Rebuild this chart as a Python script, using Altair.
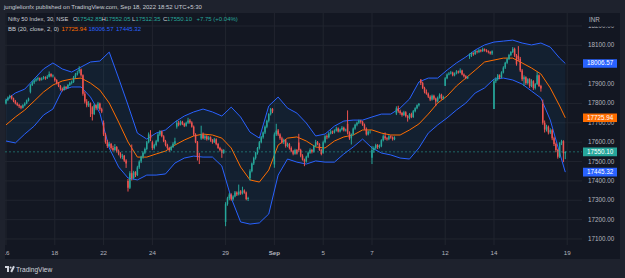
import altair as alt
import pandas as pd

# ---- 30-minute NIFTY 50 bars, 16 Aug - 16 Sep 2022 (13 bars per session) ----
opens = [
    17800, 17818, 17830, 17838, 17826, 17812, 17800, 17792, 17785, 17778, 17790, 17800, 17815,
    17860, 17895, 17908, 17918, 17925, 17930, 17922, 17928, 17935, 17930, 17938, 17952, 17940,
    17930, 17920, 17905, 17890, 17875, 17870, 17885, 17880, 17895, 17905, 17910, 17935, 17950,
    17966, 17975, 17945, 17850, 17810, 17790, 17800, 17780, 17745, 17790, 17775, 17800, 17770,
    17700, 17640, 17600, 17580, 17590, 17570, 17560, 17575, 17555, 17540, 17525, 17530, 17505,
    17400, 17365, 17440, 17415, 17445, 17430, 17470, 17500, 17525, 17545, 17565, 17600, 17640,
    17600, 17570, 17585, 17605, 17640, 17655, 17630, 17605, 17585, 17570, 17560, 17575, 17592,
    17679, 17700, 17690, 17705, 17695, 17685, 17700, 17712, 17702, 17680, 17640, 17600, 17525,
    17619, 17640, 17620, 17630, 17615, 17625, 17610, 17600, 17615, 17590, 17570, 17560, 17545,
    17188, 17280, 17310, 17330, 17305, 17320, 17340, 17330, 17345, 17335, 17350, 17340, 17306,
    17414, 17450, 17490, 17518, 17545, 17570, 17600, 17625, 17650, 17680, 17710, 17745, 17772,
    17485, 17640, 17660, 17640, 17620, 17600, 17610, 17580, 17590, 17570, 17555, 17540, 17560,
    17598, 17560, 17530, 17510, 17500, 17525, 17545, 17560, 17550, 17580, 17600, 17590, 17560,
    17546, 17600, 17630, 17625, 17645, 17655, 17650, 17660, 17670, 17655, 17665, 17675, 17660,
    17695, 17650, 17620, 17640, 17670, 17690, 17700, 17710, 17705, 17690, 17670, 17640, 17655,
    17519, 17560, 17570, 17585, 17575, 17580, 17610, 17630, 17620, 17615, 17630, 17625, 17615,
    17748, 17775, 17760, 17750, 17740, 17755, 17735, 17725, 17745, 17730, 17760, 17775, 17790,
    17923, 17905, 17880, 17860, 17850, 17835, 17820, 17840, 17825, 17810, 17830, 17845, 17825,
    17891, 17930, 17950, 17955, 17960, 17945, 17955, 17965, 17960, 17970, 17950, 17940, 17930,
    18044, 18050, 18060, 18055, 18070, 18065, 18075, 18070, 18080, 18075, 18070, 18065, 18058,
    17771, 17915, 17925, 17945, 17935, 17960, 17985, 18010, 18030, 18050, 18065, 18082, 18048,
    18046, 18030, 17970, 17925, 17935, 17905, 17925, 17890, 17915, 17880, 17900, 17945, 17890,
    17797, 17700, 17665, 17680, 17650, 17662, 17620, 17590, 17560, 17525, 17595, 17605, 17542.85,
]
highs = [
    17825, 17836, 17845, 17842, 17830, 17818, 17806, 17798, 17790, 17796, 17806, 17820, 17830,
    17900, 17915, 17925, 17932, 17938, 17934, 17935, 17942, 17940, 17946, 17965, 17956, 17950,
    17938, 17925, 17910, 17895, 17882, 17892, 17890, 17900, 17912, 17918, 17942, 17958, 17969,
    17992, 17980, 17950, 17862, 17822, 17812, 17805, 17786, 17798, 17795, 17808, 17804, 17778,
    17712, 17648, 17612, 17602, 17596, 17582, 17590, 17580, 17562, 17548, 17540, 17534, 17512,
    17410, 17450, 17588, 17452, 17450, 17478, 17506, 17530, 17552, 17572, 17606, 17650, 17662,
    17608, 17592, 17612, 17648, 17662, 17660, 17636, 17612, 17592, 17576, 17582, 17600, 17623,
    17712, 17710, 17712, 17710, 17700, 17706, 17726, 17720, 17708, 17686, 17646, 17606, 17545,
    17685, 17650, 17638, 17636, 17632, 17630, 17616, 17622, 17620, 17596, 17576, 17566, 17564,
    17290, 17318, 17338, 17336, 17326, 17348, 17346, 17381, 17352, 17370, 17356, 17345, 17318,
    17460, 17495, 17525, 17550, 17575, 17606, 17632, 17655, 17686, 17716, 17750, 17777, 17776,
    17650, 17695, 17668, 17646, 17628, 17618, 17616, 17598, 17596, 17578, 17560, 17566, 17565,
    17643, 17566, 17538, 17515, 17530, 17552, 17568, 17565, 17586, 17612, 17606, 17595, 17566,
    17608, 17636, 17640, 17652, 17662, 17660, 17666, 17680, 17676, 17670, 17683, 17680, 17670,
    17764, 17656, 17645, 17676, 17695, 17706, 17716, 17715, 17710, 17696, 17676, 17660, 17662,
    17580, 17578, 17592, 17590, 17588, 17615, 17640, 17650, 17626, 17636, 17635, 17630, 17630,
    17785, 17788, 17768, 17756, 17762, 17760, 17740, 17750, 17752, 17766, 17780, 17795, 17802,
    17925, 17912, 17886, 17872, 17856, 17842, 17846, 17845, 17830, 17836, 17852, 17850, 17840,
    17936, 17955, 17962, 17968, 17964, 17960, 17972, 17970, 17981, 17974, 17955, 17946, 17942,
    18058, 18066, 18064, 18076, 18074, 18082, 18080, 18088, 18084, 18080, 18074, 18070, 18074,
    17925, 17935, 17952, 17950, 17966, 17992, 18015, 18036, 18056, 18070, 18091, 18088, 18055,
    18096, 18040, 17978, 17945, 17940, 17930, 17930, 17925, 17920, 17905, 17962, 17950, 17896,
    17820, 17712, 17690, 17686, 17672, 17668, 17628, 17598, 17566, 17600, 17612, 17610, 17552.05,
]
lows = [
    17795, 17812, 17824, 17820, 17806, 17795, 17786, 17776, 17770, 17774, 17785, 17796, 17810,
    17852, 17890, 17900, 17912, 17918, 17915, 17918, 17924, 17922, 17926, 17934, 17935, 17934,
    17912, 17898, 17884, 17866, 17862, 17866, 17872, 17876, 17890, 17898, 17906, 17930, 17944,
    17955, 17938, 17840, 17800, 17780, 17782, 17730, 17712, 17740, 17765, 17770, 17762, 17750,
    17632, 17592, 17570, 17574, 17562, 17552, 17555, 17546, 17532, 17516, 17512, 17498, 17467,
    17345, 17358, 17402, 17408, 17420, 17425, 17462, 17492, 17515, 17538, 17558, 17594, 17605,
    17560, 17562, 17578, 17600, 17632, 17625, 17600, 17578, 17562, 17550, 17555, 17570, 17586,
    17670, 17682, 17686, 17688, 17678, 17680, 17694, 17695, 17675, 17632, 17595, 17505, 17487,
    17612, 17615, 17612, 17608, 17610, 17602, 17592, 17596, 17584, 17565, 17552, 17519, 17540,
    17166, 17272, 17300, 17298, 17298, 17315, 17322, 17325, 17328, 17330, 17334, 17300, 17296,
    17401, 17444, 17482, 17510, 17536, 17562, 17594, 17618, 17642, 17672, 17702, 17738, 17750,
    17468, 17632, 17632, 17612, 17592, 17590, 17572, 17574, 17562, 17548, 17532, 17535, 17536,
    17550, 17522, 17505, 17476, 17494, 17518, 17540, 17542, 17546, 17575, 17584, 17555, 17532,
    17540, 17594, 17615, 17620, 17640, 17642, 17645, 17655, 17650, 17650, 17660, 17655, 17655,
    17640, 17612, 17588, 17635, 17664, 17682, 17694, 17696, 17684, 17664, 17634, 17635, 17645,
    17487, 17545, 17562, 17565, 17568, 17574, 17604, 17612, 17608, 17610, 17618, 17608, 17610,
    17740, 17752, 17742, 17732, 17735, 17728, 17706, 17718, 17724, 17725, 17754, 17770, 17784,
    17895, 17874, 17852, 17845, 17828, 17812, 17815, 17818, 17786, 17805, 17825, 17820, 17820,
    17890, 17925, 17945, 17950, 17940, 17940, 17950, 17954, 17956, 17945, 17934, 17925, 17926,
    18030, 18040, 18046, 18050, 18058, 18060, 18064, 18066, 18068, 18064, 18058, 18052, 18050,
    17771, 17905, 17918, 17925, 17930, 17955, 17978, 18004, 18024, 18044, 18060, 18040, 17995,
    18020, 17962, 17915, 17890, 17896, 17898, 17880, 17884, 17870, 17872, 17895, 17885, 17861,
    17690, 17650, 17655, 17640, 17642, 17610, 17580, 17548, 17515, 17518, 17585, 17497, 17512.35,
]
closes = [
    17818, 17830, 17838, 17826, 17812, 17800, 17792, 17785, 17778, 17790, 17800, 17815, 17825,
    17895, 17908, 17918, 17925, 17930, 17922, 17928, 17935, 17930, 17938, 17952, 17940, 17944,
    17920, 17905, 17890, 17875, 17870, 17885, 17880, 17895, 17905, 17910, 17935, 17950, 17956,
    17975, 17945, 17850, 17810, 17790, 17800, 17780, 17745, 17790, 17775, 17800, 17770, 17758,
    17640, 17600, 17580, 17590, 17570, 17560, 17575, 17555, 17540, 17525, 17530, 17505, 17490,
    17365, 17440, 17415, 17445, 17430, 17470, 17500, 17525, 17545, 17565, 17600, 17640, 17620,
    17570, 17585, 17605, 17640, 17655, 17630, 17605, 17585, 17570, 17560, 17575, 17592, 17605,
    17700, 17690, 17705, 17695, 17685, 17700, 17712, 17702, 17680, 17640, 17600, 17525, 17522,
    17640, 17620, 17630, 17615, 17625, 17610, 17600, 17615, 17590, 17570, 17560, 17545, 17559,
    17280, 17310, 17330, 17305, 17320, 17340, 17330, 17345, 17335, 17350, 17340, 17306, 17312,
    17450, 17490, 17518, 17545, 17570, 17600, 17625, 17650, 17680, 17710, 17745, 17772, 17759,
    17640, 17660, 17640, 17620, 17600, 17610, 17580, 17590, 17570, 17555, 17540, 17560, 17542,
    17560, 17530, 17510, 17500, 17525, 17545, 17560, 17550, 17580, 17600, 17590, 17560, 17539,
    17600, 17630, 17625, 17645, 17655, 17650, 17660, 17670, 17655, 17665, 17675, 17660, 17665,
    17650, 17620, 17640, 17670, 17690, 17700, 17710, 17705, 17690, 17670, 17640, 17655, 17655,
    17560, 17570, 17585, 17575, 17580, 17610, 17630, 17620, 17615, 17630, 17625, 17615, 17624,
    17775, 17760, 17750, 17740, 17755, 17735, 17725, 17745, 17730, 17760, 17775, 17790, 17798,
    17905, 17880, 17860, 17850, 17835, 17820, 17840, 17825, 17810, 17830, 17845, 17825, 17833,
    17930, 17950, 17955, 17960, 17945, 17955, 17965, 17960, 17970, 17950, 17940, 17930, 17936,
    18050, 18060, 18055, 18070, 18065, 18075, 18070, 18080, 18075, 18070, 18065, 18058, 18070,
    17915, 17925, 17945, 17935, 17960, 17985, 18010, 18030, 18050, 18065, 18082, 18048, 18004,
    18030, 17970, 17925, 17935, 17905, 17925, 17890, 17915, 17880, 17900, 17945, 17890, 17877,
    17700, 17665, 17680, 17650, 17662, 17620, 17590, 17560, 17525, 17595, 17605, 17542.85, 17550.10,
]

# ---- Bollinger Bands (20, close, 2), sampled every 5 bars ----
bb_index = [0, 5, 10, 15, 20, 25, 30, 35, 40, 45, 50, 55, 60, 65, 70, 75, 80, 85, 90, 95,
            100, 105, 110, 115, 120, 125, 130, 135, 140, 145, 150, 155, 160, 165, 170, 175,
            180, 185, 190, 195, 200, 205, 210, 215, 220, 225, 230, 235, 240, 245, 250, 255,
            260, 265, 270, 275, 280, 285, 290, 295, 298]
bb_upper = [17818, 17854, 17874, 17926, 17978, 18009, 17978, 17962, 17988, 18014, 18019, 18065,
            17931, 17792, 17647, 17616, 17647, 17663, 17704, 17735, 17756, 17771, 17756, 17735,
            17781, 17730, 17652, 17621, 17787, 17833, 17776, 17750, 17699, 17632, 17642, 17683,
            17709, 17714, 17714, 17730, 17745, 17745, 17776, 17823, 17911, 17931, 17931, 17972,
            18009, 18040, 18076, 18102, 18117, 18122, 18127, 18112, 18102, 18112, 18091, 18034,
            18006.57]
bb_basis = [17689, 17730, 17766, 17812, 17859, 17895, 17916, 17926, 17931, 17905, 17869, 17802,
            17704, 17601, 17523, 17523, 17539, 17554, 17585, 17611, 17632, 17642, 17637, 17621,
            17570, 17472, 17405, 17394, 17456, 17585, 17621, 17627, 17606, 17575, 17570, 17606,
            17627, 17637, 17663, 17663, 17647, 17637, 17637, 17663, 17694, 17745, 17802, 17838,
            17890, 17931, 17972, 18014, 18024, 18034, 18034, 18009, 17983, 17952, 17880, 17787,
            17725.94]
bb_lower = [17606, 17596, 17642, 17683, 17740, 17771, 17869, 17885, 17885, 17833, 17750, 17570,
            17472, 17415, 17405, 17430, 17430, 17436, 17492, 17518, 17528, 17523, 17523, 17477,
            17312, 17188, 17177, 17183, 17229, 17430, 17513, 17497, 17487, 17503, 17497, 17497,
            17539, 17575, 17616, 17570, 17544, 17534, 17518, 17513, 17570, 17647, 17689, 17725,
            17766, 17802, 17854, 17880, 17926, 17931, 17921, 17900, 17864, 17828, 17714, 17544,
            17445.32]

# ---- axis ticks ----
day_ticks = [0, 26, 52, 78, 117, 143, 169, 195, 234, 260, 299]
day_labels = ["16", "18", "22", "24", "29", "Sep", "5", "7", "12", "14", "19"]
price_ticks = [17100, 17200, 17300, 17400, 17500, 17600, 17700, 17800, 17900, 18000, 18100, 18200]

# ---- look ----
FONT = "Liberation Sans"
PANE = "#131722"
FRAME = "#1e222d"
GRID = "#21252f"
UP = "#26a69a"
DOWN = "#ef5350"
BAND = "#2962ff"
BASIS = "#ff6d00"
TEXT = "#b2b5be"
HEAD = "#c9ccd3"
W, H = 577, 232
X_MIN, X_MAX = -0.53, 306.9
Y_MIN, Y_MAX = 17069, 18267
PX = (Y_MAX - Y_MIN) / H  # price units per pixel

xs = alt.Scale(domain=[X_MIN, X_MAX], nice=False, zero=False)
ys = alt.Scale(domain=[Y_MIN, Y_MAX], nice=False, zero=False)

candles = pd.DataFrame({"i": range(len(closes)), "o": opens, "h": highs, "l": lows, "c": closes})
candles["dir"] = ["up" if c >= o else "down" for o, c in zip(opens, closes)]
candles["x0"] = candles["i"] - 0.4
candles["x1"] = candles["i"] + 0.4
bands = pd.DataFrame({"i": bb_index, "up": bb_upper, "mid": bb_basis, "lo": bb_lower})
days = pd.DataFrame({"i": day_ticks, "lab": day_labels})
prices = pd.DataFrame({"p": price_ticks})
prices["lab"] = [f"{p:.2f}" for p in price_ticks]
one = pd.DataFrame({"k": [0]})
dir_color = alt.Color("dir:N", scale=alt.Scale(domain=["up", "down"], range=[UP, DOWN]), legend=None)


def X(f):
    return alt.X(f, scale=xs, axis=None, title=None)


def Y(f):
    return alt.Y(f, scale=ys, axis=None, title=None)


# grid
h_grid = alt.Chart(prices).mark_rule(color=GRID, strokeWidth=1).encode(
    y=Y("p:Q"), x=alt.value(0), x2=alt.value(W))
v_grid = alt.Chart(days).mark_rule(color=GRID, strokeWidth=1).encode(
    x=X("i:Q"), y=alt.value(0), y2=alt.value(H))

# Bollinger bands
band_fill = alt.Chart(bands).mark_area(color="#2196f3", opacity=0.07).encode(
    x=X("i:Q"), y=Y("up:Q"), y2="lo:Q")
upper_line = alt.Chart(bands).mark_line(color=BAND, strokeWidth=1).encode(x=X("i:Q"), y=Y("up:Q"))
lower_line = alt.Chart(bands).mark_line(color=BAND, strokeWidth=1).encode(x=X("i:Q"), y=Y("lo:Q"))
basis_line = alt.Chart(bands).mark_line(color=BASIS, strokeWidth=1).encode(x=X("i:Q"), y=Y("mid:Q"))

# candles
wicks = alt.Chart(candles).mark_rule(strokeWidth=1).encode(
    x=X("i:Q"), y=Y("l:Q"), y2="h:Q", color=dir_color)
bodies = alt.Chart(candles).mark_bar().encode(
    x=X("x0:Q"), x2="x1:Q", y=Y("o:Q"), y2="c:Q", color=dir_color)

last_price = alt.Chart(pd.DataFrame({"p": [closes[-1]]})).mark_rule(
    color=UP, strokeDash=[2, 2], strokeWidth=1, opacity=0.55).encode(
    y=Y("p:Q"), x=alt.value(0), x2=alt.value(W))

# axis labels (month name in bold)
x_labels = alt.Chart(days).transform_filter("datum.lab != 'Sep'").mark_text(
    color=TEXT, font=FONT, fontSize=6.2, align="center", baseline="middle").encode(
    x=X("i:Q"), y=alt.value(H + 8), text="lab:N")
x_month = alt.Chart(days).transform_filter("datum.lab == 'Sep'").mark_text(
    color=TEXT, font=FONT, fontSize=6.2, fontWeight="bold", align="center", baseline="middle").encode(
    x=X("i:Q"), y=alt.value(H + 8), text="lab:N")
y_labels = alt.Chart(prices).mark_text(
    color=TEXT, font=FONT, fontSize=6.3, align="left", baseline="middle").encode(
    y=Y("p:Q"), x=alt.value(W + 6), text="lab:N")

# price tags on the right scale
tags = pd.DataFrame({
    "v": [bb_upper[-1], bb_basis[-1], closes[-1], bb_lower[-1]],
    "col": [BAND, BASIS, UP, BAND],
})
tags["txt"] = [f"{v:.2f}" for v in tags["v"]]
tag_base = alt.Chart(tags).transform_calculate(
    top=f"datum.v + {4.3 * PX}", bot=f"datum.v - {4.3 * PX}")
tag_boxes = tag_base.mark_rect().encode(
    x=alt.value(W + 1), x2=alt.value(W + 35), y=Y("top:Q"), y2="bot:Q",
    color=alt.Color("col:N", scale=None))
tag_text = tag_base.mark_text(color="#ffffff", font=FONT, fontSize=6.3, align="center",
                              baseline="middle").encode(
    x=alt.value(W + 18), y=Y("v:Q"), text="txt:N")


# frame around the pane
def strip(x1, x2, y1, y2, color=FRAME):
    return alt.Chart(one).mark_rect(color=color).encode(
        x=alt.value(x1), x2=alt.value(x2), y=alt.value(y1), y2=alt.value(y2))


frame = [
    strip(W + 5, W + 40, -13, 13.5, PANE),  # currency label area over the top price label
    strip(-5, 0, -13, H + 33),
    strip(-5, W + 48, -13, 0),
    strip(W + 38, W + 48, -13, H + 33),
    strip(-5, W + 48, H + 14, H + 33),
]


def text(s, x, y, color=TEXT, size=6.0, weight="normal"):
    return alt.Chart(one).mark_text(
        text=s, color=color, font=FONT, fontSize=size, fontWeight=weight,
        align="left", baseline="middle").encode(x=alt.value(x), y=alt.value(y))


last = len(closes) - 1
header = [
    text("junglelionfx published on TradingView.com, Sep 18, 2022 18:52 UTC+5:30", -1, -6.5, HEAD),
    text("Nifty 50 Index, 30, NSE", 3, 6, HEAD, 5.8),
    text("O", 68, 6, HEAD), text(f"{opens[last]:.2f}", 72, 6, UP),
    text("H", 96.5, 6, HEAD), text(f"{highs[last]:.2f}", 100.5, 6, UP),
    text("L", 127, 6, HEAD), text(f"{lows[last]:.2f}", 130.5, 6, UP),
    text("C", 158, 6, HEAD), text(f"{closes[last]:.2f}", 162, 6, UP),
    text("+7.75 (+0.04%)", 191.5, 6, UP),
    text("BB (20, close, 2, 0)", 3, 16, HEAD),
    text(f"{bb_basis[-1]:.2f}", 56.5, 16, BASIS),
    text(f"{bb_upper[-1]:.2f}", 83.5, 16, BAND),
    text(f"{bb_lower[-1]:.2f}", 111, 16, BAND),
    text("INR", W + 7, 7, TEXT, 6.3),
]

# footer logo + wordmark
LOGO = "#d1d4dc"
logo = [
    alt.Chart(one).mark_rule(color=LOGO, strokeWidth=2).encode(
        x=alt.value(0), x2=alt.value(4), y=alt.value(H + 22)),
    alt.Chart(one).mark_rule(color=LOGO, strokeWidth=2).encode(
        x=alt.value(3), y=alt.value(H + 21.5), y2=alt.value(H + 27)),
    alt.Chart(one).mark_point(color=LOGO, filled=True, size=4, opacity=1).encode(
        x=alt.value(5.6), y=alt.value(H + 22.4)),
    alt.Chart(one).mark_rule(color=LOGO, strokeWidth=2).encode(
        x=alt.value(6.2), x2=alt.value(9), y=alt.value(H + 27), y2=alt.value(H + 21.2)),
    text("TradingView", 11, H + 24.7, LOGO, 6.6),
]

chart = alt.layer(
    h_grid, v_grid, band_fill, upper_line, lower_line, basis_line, wicks, bodies, last_price,
    y_labels, x_labels, x_month, *frame, tag_boxes, tag_text, *header, *logo,
).properties(
    width=W, height=H, background=PANE,
    padding={"left": 5, "top": 13, "right": 43, "bottom": 33},
    autosize=alt.AutoSizeParams(type="none"),
).configure_view(stroke=None)

chart.save("out.html", embed_options={"renderer": "svg", "actions": False})
